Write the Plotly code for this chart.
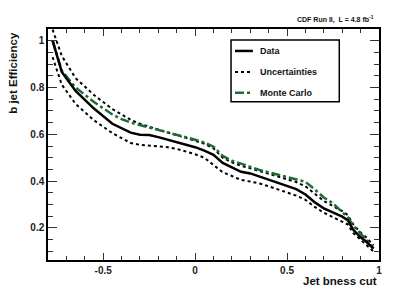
import plotly.graph_objects as go

# x positions (Jet bness cut)
x_vals = [-0.775, -0.725, -0.65, -0.55, -0.45, -0.40, -0.35, -0.30, -0.25, -0.20,
          -0.15, -0.10, -0.05, 0.0, 0.05, 0.10, 0.15, 0.20, 0.25, 0.30,
          0.35, 0.40, 0.45, 0.50, 0.55, 0.60, 0.65, 0.70, 0.75, 0.80,
          0.83, 0.86, 0.90, 0.93, 0.97]

data_eff = [1.0, 0.866, 0.785, 0.710, 0.645, 0.625, 0.607, 0.598, 0.597, 0.588,
            0.578, 0.566, 0.555, 0.545, 0.530, 0.512, 0.478, 0.458, 0.440, 0.433,
            0.420, 0.407, 0.394, 0.381, 0.366, 0.343, 0.310, 0.284, 0.265, 0.248,
            0.233, 0.192, 0.160, 0.142, 0.112]

mc_eff = [1.0, 0.872, 0.800, 0.738, 0.685, 0.665, 0.650, 0.640, 0.630, 0.620,
          0.608, 0.598, 0.588, 0.577, 0.565, 0.547, 0.508, 0.487, 0.475, 0.460,
          0.448, 0.438, 0.428, 0.418, 0.410, 0.397, 0.365, 0.330, 0.305, 0.270,
          0.245, 0.210, 0.177, 0.150, 0.113]

unc_up = [1.047, 0.935, 0.840, 0.768, 0.708, 0.684, 0.662, 0.645, 0.632, 0.620,
          0.607, 0.596, 0.585, 0.574, 0.560, 0.540, 0.500, 0.480, 0.465, 0.455,
          0.443, 0.432, 0.420, 0.408, 0.396, 0.378, 0.345, 0.315, 0.293, 0.272,
          0.255, 0.215, 0.180, 0.160, 0.125]

unc_down = [0.930, 0.812, 0.730, 0.660, 0.605, 0.585, 0.563, 0.555, 0.552, 0.548,
            0.545, 0.538, 0.528, 0.515, 0.500, 0.470, 0.438, 0.422, 0.405, 0.398,
            0.390, 0.378, 0.365, 0.350, 0.338, 0.320, 0.290, 0.265, 0.245, 0.228,
            0.215, 0.178, 0.150, 0.130, 0.100]

x_ticks = [-0.5, 0, 0.5, 1]
x_tick_labels = ["-0.5", "0", "0.5", "1"]
y_ticks = [0.2, 0.4, 0.6, 0.8, 1.0]
y_tick_labels = ["0.2", "0.4", "0.6", "0.8", "1"]

legend_labels = ["Data", "Uncertainties", "Monte Carlo"]

GREEN = "#1e6b34"
FONT = "Liberation Sans, Arial, sans-serif"

fig = go.Figure()
fig.add_trace(go.Scatter(x=x_vals, y=unc_up, mode="lines",
                         line=dict(color="black", width=2, dash="dot")))
fig.add_trace(go.Scatter(x=x_vals, y=unc_down, mode="lines",
                         line=dict(color="black", width=2, dash="dot")))
fig.add_trace(go.Scatter(x=x_vals, y=mc_eff, mode="lines",
                         line=dict(color=GREEN, width=2.5, dash="dashdot")))
fig.add_trace(go.Scatter(x=x_vals, y=data_eff, mode="lines",
                         line=dict(color="black", width=2.5)))

axis_common = dict(
    showline=True, linecolor="black", linewidth=1.5, mirror="ticks",
    ticks="inside", tickcolor="#333", tickwidth=1,
    showgrid=False, zeroline=False,
    tickfont=dict(family=FONT, size=10, color="#222", weight="bold"),
)

fig.update_xaxes(range=[-0.8, 1.0], tickvals=x_ticks, ticktext=x_tick_labels,
                 ticklen=7,
                 minor=dict(dtick=0.1, tick0=0, ticks="inside", ticklen=4,
                            tickcolor="#333", tickwidth=1),
                 **axis_common)
fig.update_yaxes(range=[0.063, 1.05], tickvals=y_ticks, ticktext=y_tick_labels,
                 ticklen=9,
                 minor=dict(dtick=0.05, tick0=0, ticks="inside", ticklen=5,
                            tickcolor="#333", tickwidth=1),
                 **axis_common)

shapes = [
    dict(type="rect", xref="paper", yref="paper", x0=0.553, x1=0.880,
         y0=0.685, y1=0.952, line=dict(color="black", width=1.5),
         fillcolor="white", layer="above"),
]
entry_y = [0.905, 0.814, 0.724]
entry_styles = [dict(color="black", width=2.5),
                dict(color="black", width=2, dash="dot"),
                dict(color=GREEN, width=2.5, dash="dashdot")]
annotations = []
for lab, ey, st in zip(legend_labels, entry_y, entry_styles):
    shapes.append(dict(type="line", xref="paper", yref="paper", x0=0.565, x1=0.619,
                       y0=ey, y1=ey, line=st, layer="above"))
    annotations.append(dict(text=lab, xref="paper", yref="paper", x=0.634, y=ey,
                            xanchor="left", yanchor="middle", showarrow=False,
                            font=dict(family=FONT, size=9, color="#111", weight="bold")))

annotations.append(dict(text="CDF Run II,  L = 4.8 fb<sup>-1</sup>", xref="paper", yref="paper",
                        x=0.991, y=1.043, xanchor="right", yanchor="middle", showarrow=False,
                        font=dict(family=FONT, size=7, color="#111", weight="bold")))
annotations.append(dict(text="Jet bness cut", xref="paper", yref="paper",
                        x=1.0, y=-0.091, xanchor="right", yanchor="middle", showarrow=False,
                        font=dict(family=FONT, size=11.5, color="#111", weight="bold")))
annotations.append(dict(text="b jet Efficiency", xref="paper", yref="paper",
                        x=-0.106, y=0.996, xanchor="center", yanchor="top", showarrow=False,
                        textangle=-90,
                        font=dict(family=FONT, size=11.5, color="#111", weight="bold")))

fig.update_layout(
    width=399, height=290,
    margin=dict(l=48, r=20, t=29, b=30),
    plot_bgcolor="white", paper_bgcolor="white",
    showlegend=False,
    shapes=shapes, annotations=annotations,
)

fig.write_html("out.html", config={"displayModeBar": False},
               post_script="document.body.style.margin='0';document.body.style.padding='0';")
